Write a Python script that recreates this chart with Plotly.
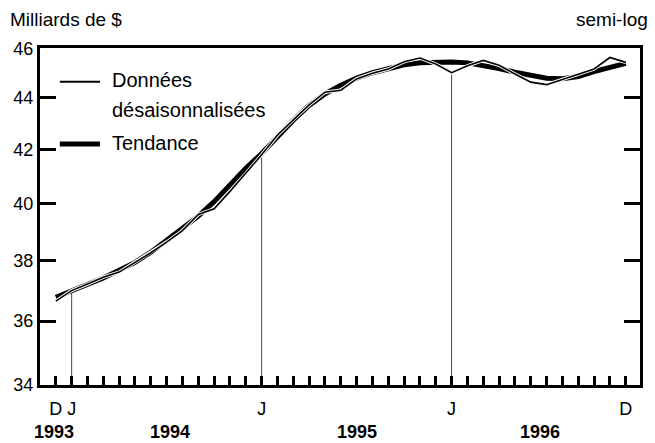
import math
import plotly.graph_objects as go

# months Dec 1993 .. Dec 1996 (index 0 = D 1993)
months = list(range(37))
month_labels = ["D", "J"] + [""] * 11 + ["J"] + [""] * 11 + ["J"] + [""] * 10 + ["D"]

# seasonally adjusted data (billions $)
donnees = [36.65, 37.00, 37.22, 37.45, 37.62, 37.95, 38.28, 38.65, 39.05, 39.62,
           39.82, 40.45, 41.10, 41.80, 42.55, 43.15, 43.72, 44.22, 44.30, 44.75,
           44.98, 45.15, 45.45, 45.60, 45.35, 45.00, 45.28, 45.50, 45.30, 44.95,
           44.62, 44.52, 44.72, 44.92, 45.15, 45.62, 45.42]

# trend
tendance = [36.78, 36.98, 37.20, 37.42, 37.68, 37.95, 38.30, 38.70, 39.12, 39.56,
            40.08, 40.70, 41.30, 41.85, 42.50, 43.12, 43.70, 44.15, 44.50, 44.78,
            45.00, 45.18, 45.32, 45.40, 45.44, 45.44, 45.40, 45.30, 45.17, 45.02,
            44.88, 44.78, 44.76, 44.85, 45.05, 45.22, 45.38]

january_idx = [1, 13, 25]
years = ["1993", "1994", "1995", "1996"]
year_pos = [-0.1, 7.2, 19.0, 30.6]
y_ticks = [34, 36, 38, 40, 42, 44, 46]

FONT = "Arial, Liberation Sans, sans-serif"

fig = go.Figure()

# vertical guide lines at each January
for i in january_idx:
    fig.add_trace(go.Scatter(x=[i, i], y=[34, donnees[i]], mode="lines",
                             line=dict(color="#444", width=1), showlegend=False,
                             hoverinfo="skip"))

fig.add_trace(go.Scatter(x=months, y=tendance, mode="lines",
                         line=dict(color="black", width=5), showlegend=False))
fig.add_trace(go.Scatter(x=months, y=donnees, mode="lines",
                         line=dict(color="white", width=3.5), showlegend=False,
                         hoverinfo="skip"))
fig.add_trace(go.Scatter(x=months, y=donnees, mode="lines",
                         line=dict(color="black", width=1.6), showlegend=False))

# legend drawn by hand
fig.add_shape(type="line", xref="paper", yref="paper", x0=0.033, x1=0.1, y0=0.9, y1=0.9,
              line=dict(color="black", width=2))
fig.add_shape(type="line", xref="paper", yref="paper", x0=0.033, x1=0.1, y0=0.715, y1=0.715,
              line=dict(color="black", width=5))
for txt, yy in [("Données", 0.905), ("désaisonnalisées", 0.815), ("Tendance", 0.718)]:
    fig.add_annotation(xref="paper", yref="paper", x=0.116, y=yy, text=txt,
                       showarrow=False, xanchor="left", yanchor="middle",
                       font=dict(family=FONT, size=20, color="black"))

# titles
fig.add_annotation(xref="paper", yref="paper", x=-0.054, y=1.085, text="Milliards de $",
                   showarrow=False, xanchor="left", yanchor="middle",
                   font=dict(family=FONT, size=19, color="black"))
fig.add_annotation(xref="paper", yref="paper", x=1.017, y=1.085, text="semi-log",
                   showarrow=False, xanchor="right", yanchor="middle",
                   font=dict(family=FONT, size=19, color="black"))

# year labels
for yr, pos in zip(years, year_pos):
    fig.add_annotation(x=pos, xref="x", yref="paper", y=-0.14, text="<b>" + yr + "</b>",
                       showarrow=False, xanchor="center", yanchor="middle",
                       font=dict(family=FONT, size=18, color="black"))

fig.update_xaxes(
    range=[-1, 36.9],
    tickvals=months, ticktext=month_labels,
    ticks="inside", ticklen=9, tickwidth=2.5, tickcolor="black",
    showline=True, linewidth=3, linecolor="black", mirror=True,
    showgrid=False, zeroline=False, ticklabelstandoff=5,
    tickfont=dict(family=FONT, size=18, color="black"),
)
fig.update_yaxes(
    type="log", range=[math.log10(34) - 0.0001, math.log10(46) + 0.0001],
    tickvals=y_ticks, ticktext=[str(v) for v in y_ticks],
    ticks="inside", ticklen=16, tickwidth=3, tickcolor="black",
    showline=True, linewidth=3, linecolor="black", mirror="ticks",
    showgrid=False, zeroline=False,
    tickfont=dict(family=FONT, size=18, color="black"),
)

fig.update_layout(
    width=655, height=443,
    margin=dict(l=40, r=13, t=48, b=58),
    plot_bgcolor="white", paper_bgcolor="white",
    showlegend=False,
)

fig.write_html("out.html", config={"displayModeBar": False},
               post_script="document.body.style.margin='0';")
